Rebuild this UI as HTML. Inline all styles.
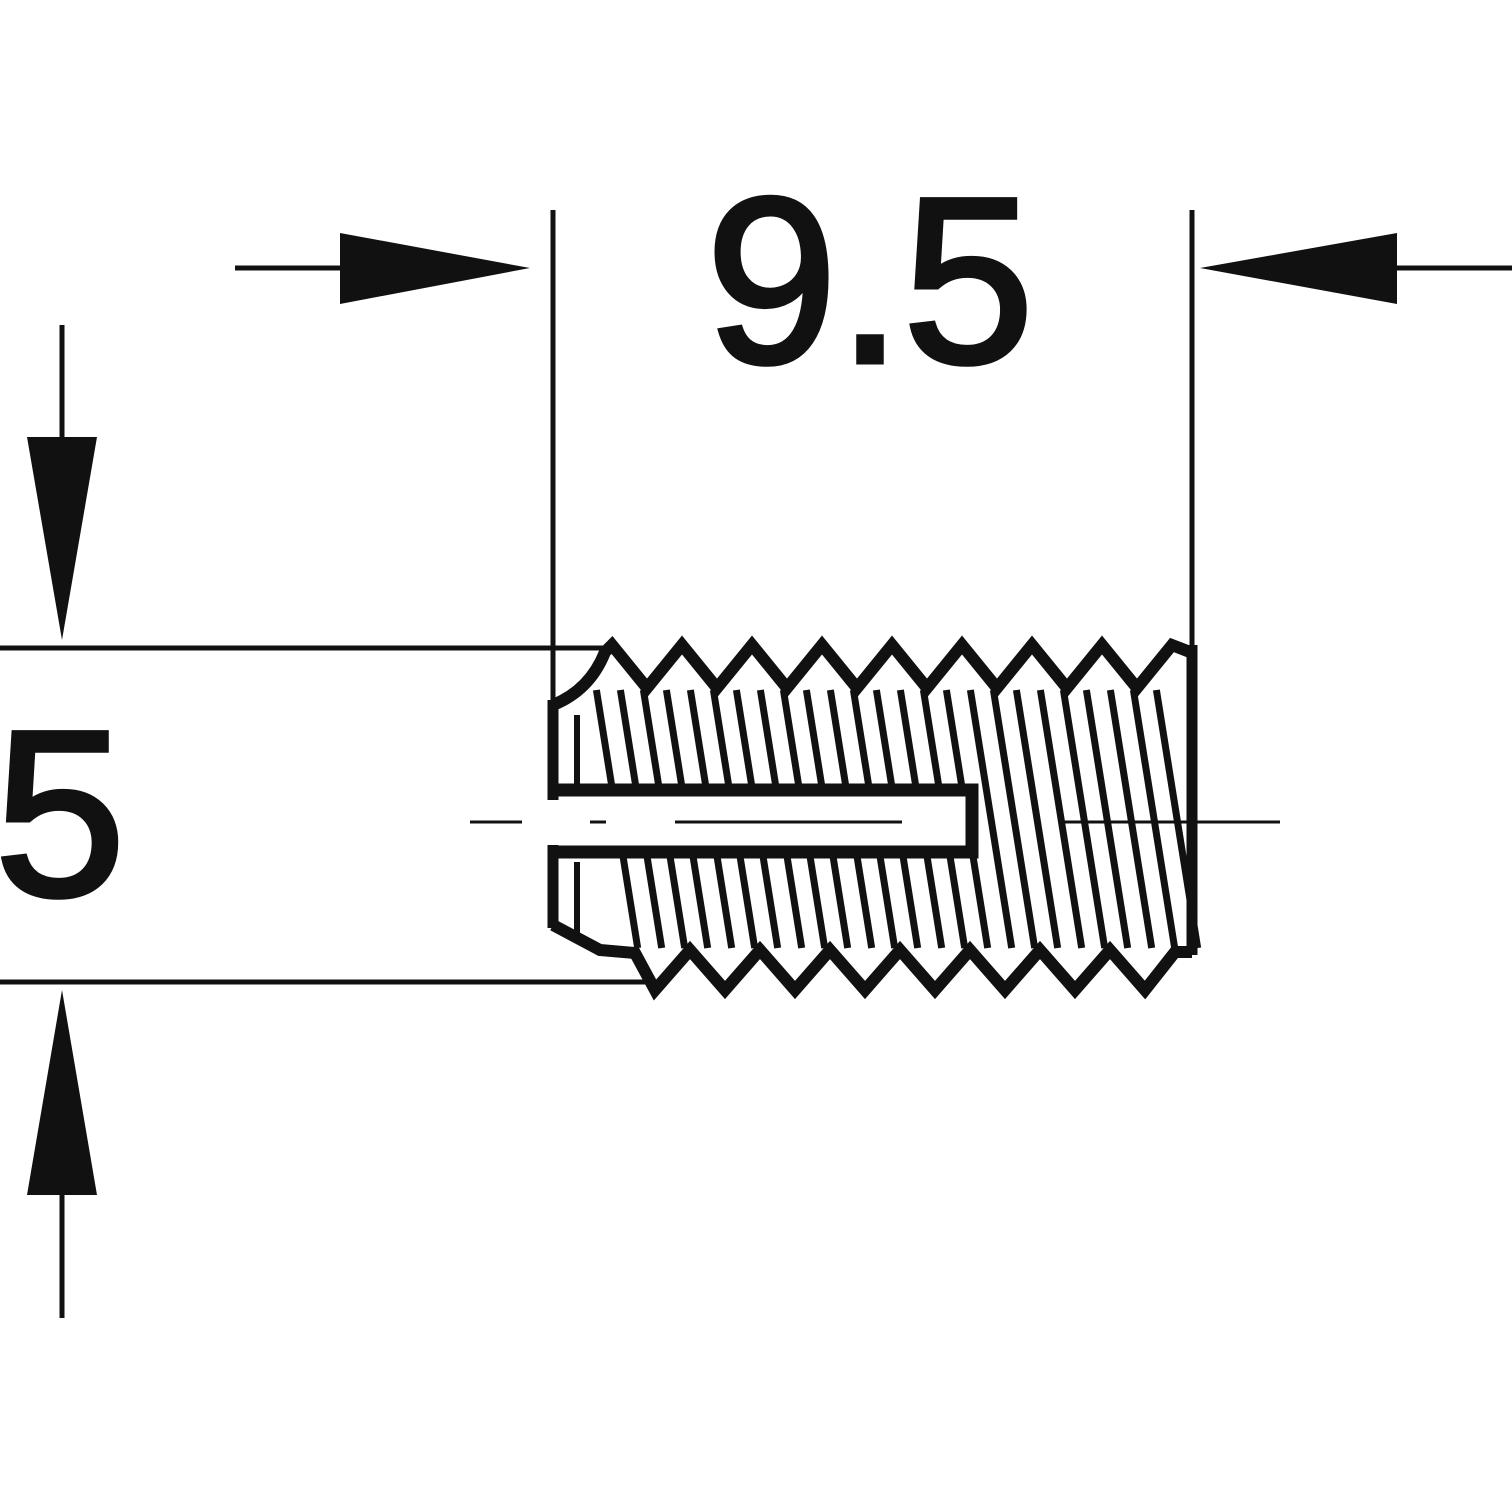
<!DOCTYPE html>
<html><head><meta charset="utf-8"><style>
html,body{margin:0;padding:0;background:#fff;}
svg{display:block;}
text{font-family:"Liberation Sans",sans-serif;fill:#111;stroke:#111;stroke-width:5;}
</style></head><body>
<svg id="s" width="1512" height="1512" viewBox="0 0 1512 1512" xmlns="http://www.w3.org/2000/svg">
<rect width="1512" height="1512" fill="#fff"/>
<g stroke="#111" fill="none">
 <line x1="553" y1="210" x2="553" y2="800" stroke-width="5"/>
 <line x1="1192" y1="210" x2="1192" y2="800" stroke-width="5"/>
 <line x1="0" y1="648" x2="610" y2="648" stroke-width="5"/>
 <line x1="0" y1="982" x2="645" y2="982" stroke-width="5"/>
 <line x1="235" y1="268" x2="400" y2="268" stroke-width="5"/>
 <line x1="1330" y1="268" x2="1512" y2="268" stroke-width="5"/>
 <line x1="62" y1="325" x2="62" y2="500" stroke-width="5"/>
 <line x1="62" y1="1130" x2="62" y2="1318" stroke-width="5"/>
 <line x1="470" y1="822" x2="522" y2="822" stroke-width="3"/>
 <line x1="590" y1="822" x2="606" y2="822" stroke-width="3"/>
 <line x1="675" y1="822" x2="902" y2="822" stroke-width="3"/>
 <line x1="1060" y1="822" x2="1280" y2="822" stroke-width="3"/>
</g>
<g fill="#111">
 <polygon points="530,268 340,233 340,304"/>
 <polygon points="1200,268 1397,233 1397,304"/>
 <polygon points="62,640 27,437 97,437"/>
 <polygon points="62,990 27,1195 97,1195"/>
</g>
<text x="870" y="362" font-size="236" text-anchor="middle">9.5</text>
<text x="60" y="895" font-size="236" text-anchor="middle">5</text>
<g id="thr" stroke="#111" fill="none" stroke-linejoin="miter" stroke-linecap="butt"></g>
</svg>
<script>
var g=document.getElementById('thr'),ns='http://www.w3.org/2000/svg';
function el(t,a){var e=document.createElementNS(ns,t);for(var k in a)e.setAttribute(k,a[k]);g.appendChild(e);return e;}
var p='M553,705 Q590,690 605,652 L612,645';
for(var k=0;k<8;k++){var c=612+70*k;p+=' L'+(c+35)+',688 L'+(c+70)+',645';}
p+=' L1190,652';
el('path',{d:p,'stroke-width':12});
var q='M553,925 L600,950 L635,953 L655,990';
for(var k=0;k<7;k++){var c=655+70*k;q+=' L'+(c+35)+',950 L'+(c+70)+',990';}
q+=' L1175,952 L1192,952';
el('path',{d:q,'stroke-width':12});
el('line',{x1:553,y1:700,x2:553,y2:800,'stroke-width':11});
el('line',{x1:553,y1:845,x2:553,y2:928,'stroke-width':11});
el('line',{x1:1192,y1:645,x2:1192,y2:955,'stroke-width':11});
el('path',{d:'M553,790 L972,790 L972,852 L553,852','stroke-width':13});
el('line',{x1:577,y1:715,x2:577,y2:785,'stroke-width':6});
el('line',{x1:577,y1:862,x2:577,y2:935,'stroke-width':6});
function hatch(x,y1,y2){var s=0.16;el('line',{x1:x+s*(y1-700),y1:y1,x2:x+s*(y2-700),y2:y2,'stroke-width':7});}
for(var k=0;k<9;k++){
 var xs=[598+70*k,622+70*k,645+70*k];
 for(var j=0;j<3;j++){var x=xs[j];
  var xb=x+0.16*(790-700);
  if(xb<968){hatch(x,690,785);hatch(x,858,948);}
  else if(x<1180){hatch(x,690,948);}
 }
}
</script>
</body></html>
